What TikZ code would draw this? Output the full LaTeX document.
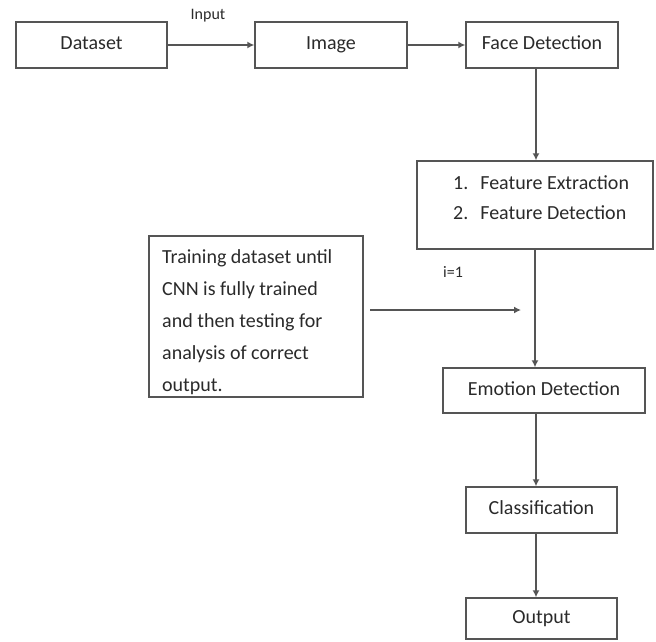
\documentclass[tikz,border=0pt]{standalone}
\usepackage{fontspec}
\setmainfont{Carlito}
\usetikzlibrary{arrows.meta}
\definecolor{linegray}{HTML}{555555}
\definecolor{txtgray}{HTML}{2a2a2a}
\begin{document}
\begin{tikzpicture}[x=1pt,y=-1pt,
  box/.style={draw=linegray,line width=1.4pt,rectangle,inner sep=0pt,
    text height=13pt,text depth=4pt,
    font=\fontsize{20}{24}\selectfont,text=txtgray},
  conn/.style={draw=linegray,line width=1.4pt,-{Latex[length=7pt,width=7pt]}},
  lbl/.style={font=\fontsize{16}{19}\selectfont,text=txtgray,inner sep=0pt}]
\useasboundingbox (0,0) rectangle (656,641);
\node[box,minimum width=151pt,minimum height=46pt] (dataset) at (91.5,45) {Dataset};
\node[box,minimum width=152pt,minimum height=46pt] (image) at (331,45) {Image};
\node[box,minimum width=152pt,minimum height=46pt] (face) at (542,45) {Face Detection};
\node[box,minimum width=236pt,minimum height=88pt] (feat) at (535,205) {};
\node[anchor=west,inner sep=0pt,text=txtgray,font=\fontsize{20}{30}\selectfont,align=left] (feattext) at (453,198)
  {1.\hspace{12pt}Feature Extraction\\2.\hspace{12pt}Feature Detection};
\node[box,minimum width=214pt,minimum height=161pt] (train) at (256,316.5) {};
\node[anchor=north west,inner sep=0pt,text=txtgray,font=\fontsize{20}{32}\selectfont,align=left] (traintext) at (162,249)
  {Training dataset until\\CNN is fully trained\\and then testing for\\analysis of correct\\output.};
\node[box,minimum width=202pt,minimum height=45pt] (emotion) at (544,390.5) {Emotion Detection};
\node[box,minimum width=151pt,minimum height=46pt] (class) at (541.5,510) {Classification};
\node[box,minimum width=151pt,minimum height=41pt] (output) at (541.5,618.5) {Output};
\node[lbl] (input) at (208,16) {Input};
\node[lbl] (ione) at (453,272) {i=1};
\coordinate (tstart) at (370,310);
\coordinate (tend) at (521,310);
\draw[conn] (dataset) -- (image);
\draw[conn] (image) -- (face);
\draw[conn] (face.south -| 536,0) -- (feat.north -| 536,0);
\draw[conn] (feat.south) -- (emotion.north -| feat.south);
\draw[conn] (emotion.south -| 536,0) -- (class.north -| 536,0);
\draw[conn] (class.south -| 536,0) -- (output.north -| 536,0);
\draw[conn] (tstart) -- (tend);
\end{tikzpicture}
\end{document}
